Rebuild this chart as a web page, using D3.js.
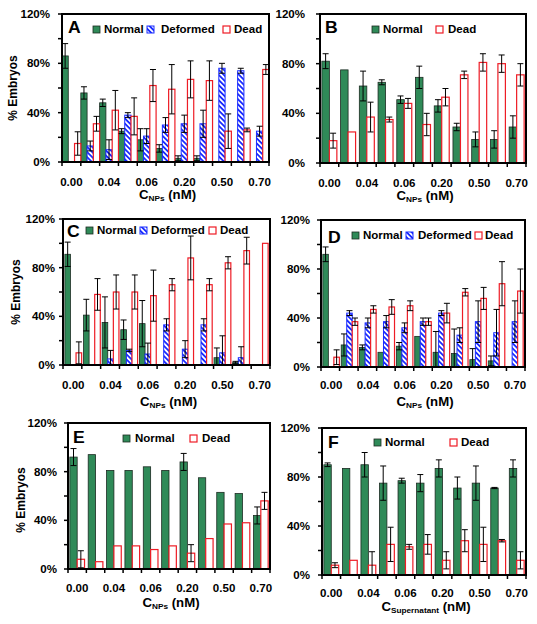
<!DOCTYPE html>
<html><head><meta charset="utf-8">
<script src="https://cdn.jsdelivr.net/npm/d3@7"></script>
<style>
body{margin:0;background:#fff}
svg{display:block}
text{font-family:"Liberation Sans",Arial,sans-serif;font-weight:bold;fill:#000}
</style>
</head><body>
<svg id="c" width="537" height="624"></svg>
<script>
// ---------- data ----------
const categories = ["c1","c2","c3","c4","c5","c6","c7","c8","c9","c10","c11"];
const tickLabels = ["0.00","","0.04","","0.06","","0.20","","0.50","","0.70"];
const yTicks = [0,20,40,60,80,100,120];
const yTickLabels = ["0%","","40%","","80%","","120%"];

// Panel A
const aNormal      = [86,56,48,25,18,11,3,3,0,0,0];
const aNormalErr   = [10,5,3,2,9,3,2,2,0,0,0];
const aDeformed    = [0,13,10,38,21,30,31,31,76,74,25];
const aDeformedErr = [0,4,8,2,6,6,7,11,4,2,4];
const aDead        = [15,31,42,37,62,59,67,66,25,26,75];
const aDeadErr     = [9.5,6,16,15,13,20,15,16,14,1.5,4];
// Panel B
const bNormal    = [82,75,62,65,51,69,46,29,19,19,29];
const bNormalErr = [6,0,12,2,3,9,5,3,6,7,9];
const bDead      = [18,25,37,35,48,31,53,71,81,80,71];
const bDeadErr   = [6,0,12,2,4,9,7,3,7,7,9];
// Panel C
const cNormal      = [91,41,35,29,34,0,0,0,6,2,0];
const cNormalErr   = [10,13,21,8,19,0,0,0,8,1,0];
const cDeformed    = [0,0,5,12,9,33,13,33,10,6,0];
const cDeformedErr = [0,0,7,1,9,5,7,5,14,9,0];
const cDead        = [10,58,60,60,57,66,88,66,84,94,100];
const cDeadErr     = [9,13,14,14,21,5,18,5,5,11,0];
// Panel D
const dNormal      = [92,18,16,12,17,25,12,11,6,5,0];
const dNormalErr   = [6,9,2,0,3,0,17,20,9,4,0];
const dDeformed    = [0,44,36,37,32,37,44,26,37,28,37];
const dDeformedErr = [0,2,4,5,4,3,2,6,17,19,17];
const dDead        = [8,37,47,49,50,37,44,61,56,68,62];
const dDeadErr     = [6,3,3,6,4,3,8,3,9,18,18];
// Panel E
const eNormal    = [92,94,81,81,84,81,88,75,63,62,44];
const eNormalErr = [7,0,0,0,0,0,7,0,0,0,7];
const eDead      = [8,6,19,19,16,19,13,25,37,38,56];
const eDeadErr   = [7,0,0,0,0,0,7,0,0,0,7];
// Panel F
const fNormal    = [90,87,90,75,77,75,87,71,75,71,87];
const fNormalErr = [1.5,0,10,14,2,7,7,9,14,0.5,7];
const fDead      = [8,12,8,25,23,25,12,28,25,28,12];
const fDeadErr   = [2,0,11,14,2,8,7,9,14,1,7];

// ---------- styles ----------
const GREEN = "#2f8a58", BLUE = "#1a2cff", RED = "#ee1c25";
const SX = 1.1; // horizontal stretch of the original figure text
const styles = {
  Normal:   {fill: GREEN, stroke: "#1c2b22", sw: 0.8},
  Deformed: {fill: "url(#hatch)", stroke: BLUE, sw: 1},
  Dead:     {fill: "#fff", stroke: RED, sw: 1.2}
};

const panels = [
  {id:"A", x0:62, x1:269, yT:14, yB:162, keys:["Normal","Deformed","Dead"],
   vals:[aNormal,aDeformed,aDead], errs:[aNormalErr,aDeformedErr,aDeadErr],
   pi:0, po:0, ylabR:50, xlabY:185.5, titleY:198.5, sub:"NPs", ytitle:[13,88],
   letter:[68,33], legY:33, leg:[[93,104],[147,161],[223,234]]},
  {id:"B", x0:320, x1:526, yT:14, yB:163, keys:["Normal","Dead"],
   vals:[bNormal,bDead], errs:[bNormalErr,bDeadErr],
   pi:0.2, po:0.1, ylabR:305, xlabY:186.5, titleY:199.5, sub:"NPs", ytitle:null,
   letter:[325,33], legY:33, leg:[[372,383],[436,448]]},
  {id:"C", x0:63, x1:270, yT:219, yB:365, keys:["Normal","Deformed","Dead"],
   vals:[cNormal,cDeformed,cDead], errs:[cNormalErr,cDeformedErr,cDeadErr],
   pi:0.1, po:0.1, ylabR:55, xlabY:388.5, titleY:405.5, sub:"NPs", ytitle:[16,292],
   letter:[67,237], legY:234, leg:[[86,97],[140,151],[209,220]]},
  {id:"D", x0:321, x1:525, yT:220, yB:367, keys:["Normal","Deformed","Dead"],
   vals:[dNormal,dDeformed,dDead], errs:[dNormalErr,dDeformedErr,dDeadErr],
   pi:0.1, po:0.1, ylabR:310, xlabY:388.5, titleY:405.5, sub:"NPs", ytitle:null,
   letter:[328,243], legY:239, leg:[[352,363],[406,418],[475,485]]},
  {id:"E", x0:68, x1:270, yT:423, yB:569, keys:["Normal","Dead"],
   vals:[eNormal,eDead], errs:[eNormalErr,eDeadErr],
   pi:0.2, po:0.1, ylabR:57, xlabY:591.5, titleY:606.5, sub:"NPs", ytitle:[21,500],
   letter:[73,443], legY:442, leg:[[123,135],[190,202]]},
  {id:"F", x0:322, x1:526, yT:428, yB:575, keys:["Normal","Dead"],
   vals:[fNormal,fDead], errs:[fNormalErr,fDeadErr],
   pi:0.2, po:0.1, ylabR:310, xlabY:596.5, titleY:610.5, sub:"Supernatant", ytitle:null,
   letter:[328,448], legY:446, leg:[[374,385],[450,461]]}
];

// ---------- drawing ----------
const svg = d3.select("#c");
svg.append("rect").attr("width",537).attr("height",624).attr("fill","#fff");
const defs = svg.append("defs");
const pat = defs.append("pattern").attr("id","hatch")
  .attr("patternUnits","userSpaceOnUse").attr("width",3.6).attr("height",3.6)
  .attr("patternTransform","rotate(-45)");
pat.append("rect").attr("width",3.6).attr("height",3.6).attr("fill","#fff");
pat.append("rect").attr("width",1.8).attr("height",3.6).attr("fill",BLUE);

function txt(g, x, y, s, size, anchor, rot) {
  return g.append("text")
    .attr("transform", `translate(${x},${y}) scale(${SX},1)` + (rot ? ` rotate(${rot})` : ""))
    .attr("text-anchor", anchor || "start")
    .attr("font-size", size)
    .text(s);
}

panels.forEach(p => {
  const g = svg.append("g");
  const x = d3.scaleBand().domain(categories).range([p.x0, p.x1])
    .paddingInner(p.pi).paddingOuter(p.po);
  const xs = d3.scaleBand().domain(p.keys).range([0, x.bandwidth()]);
  const xb = d3.scaleLinear().domain([0, categories.length]).range([p.x0, p.x1]);
  const y = d3.scaleLinear().domain([0,120]).range([p.yB, p.yT]);
  const clampV = v => Math.max(0, Math.min(120, v));

  // bars
  p.keys.forEach((k, si) => {
    const st = styles[k];
    g.append("g").selectAll("rect").data(categories.map((c,i)=>({c, v:p.vals[si][i]})).filter(d=>d.v>0))
      .join("rect")
      .attr("x", d => x(d.c) + xs(k))
      .attr("width", xs.bandwidth())
      .attr("y", d => y(d.v))
      .attr("height", d => y(0) - y(d.v))
      .attr("fill", st.fill).attr("stroke", st.stroke).attr("stroke-width", st.sw);
  });
  // error bars
  p.keys.forEach((k, si) => {
    const data = categories.map((c,i)=>({c, v:p.vals[si][i], e:p.errs[si][i]})).filter(d=>d.e>0);
    const eg = g.append("g").attr("stroke","#000").attr("stroke-width",1).attr("fill","none");
    data.forEach(d => {
      const cx = x(d.c) + xs(k) + xs.bandwidth()/2;
      const yHi = y(clampV(d.v + d.e)), yLo = y(clampV(d.v - d.e));
      eg.append("line").attr("x1",cx).attr("x2",cx).attr("y1",yHi).attr("y2",yLo);
      eg.append("line").attr("x1",cx-3).attr("x2",cx+3).attr("y1",yHi).attr("y2",yHi);
      if (d.v - d.e > 0) eg.append("line").attr("x1",cx-3).attr("x2",cx+3).attr("y1",yLo).attr("y2",yLo);
    });
  });

  // frame
  g.append("rect").attr("x",p.x0).attr("y",p.yT).attr("width",p.x1-p.x0).attr("height",p.yB-p.yT)
    .attr("fill","none").attr("stroke","#000").attr("stroke-width",2);

  // y ticks
  yTicks.forEach((t,i) => {
    g.append("line").attr("x1",p.x0-4).attr("x2",p.x0).attr("y1",y(t)).attr("y2",y(t))
      .attr("stroke","#000").attr("stroke-width",1.5);
    if (yTickLabels[i]) txt(g, p.ylabR, y(t)+4, yTickLabels[i], 10.5, "end");
  });
  // x ticks at category boundaries
  d3.range(categories.length+1).forEach(i => {
    g.append("line").attr("x1",xb(i)).attr("x2",xb(i)).attr("y1",p.yB).attr("y2",p.yB+4)
      .attr("stroke","#000").attr("stroke-width",1.5);
  });
  categories.forEach((c,i) => {
    if (tickLabels[i]) txt(g, x(c)+x.bandwidth()/2, p.xlabY, tickLabels[i], 10.5, "middle");
  });

  // x axis title
  const tt = g.append("text")
    .attr("transform", `translate(${(p.x0+p.x1)/2+2},${p.titleY}) scale(${SX},1)`)
    .attr("text-anchor","middle").attr("font-size",12);
  tt.append("tspan").text("C");
  tt.append("tspan").attr("font-size",7.5).attr("dy",2).text(p.sub);
  tt.append("tspan").attr("dy",-2).text(" (nM)");

  // y axis title
  if (p.ytitle) txt(g, p.ytitle[0], p.ytitle[1], "% Embryos", 12, "middle", -90)
    .attr("dominant-baseline","central");

  // panel letter
  txt(g, p.letter[0], p.letter[1], p.id, 16, "start");

  // legend
  p.keys.forEach((k, si) => {
    const st = styles[k];
    const [sx, tx] = p.leg[si];
    g.append("rect").attr("x",sx).attr("y",p.legY-7).attr("width",7).attr("height",7)
      .attr("fill",st.fill).attr("stroke",st.stroke).attr("stroke-width",st.sw);
    txt(g, tx, p.legY, k, 10.5, "start");
  });
});
</script>
</body></html>
